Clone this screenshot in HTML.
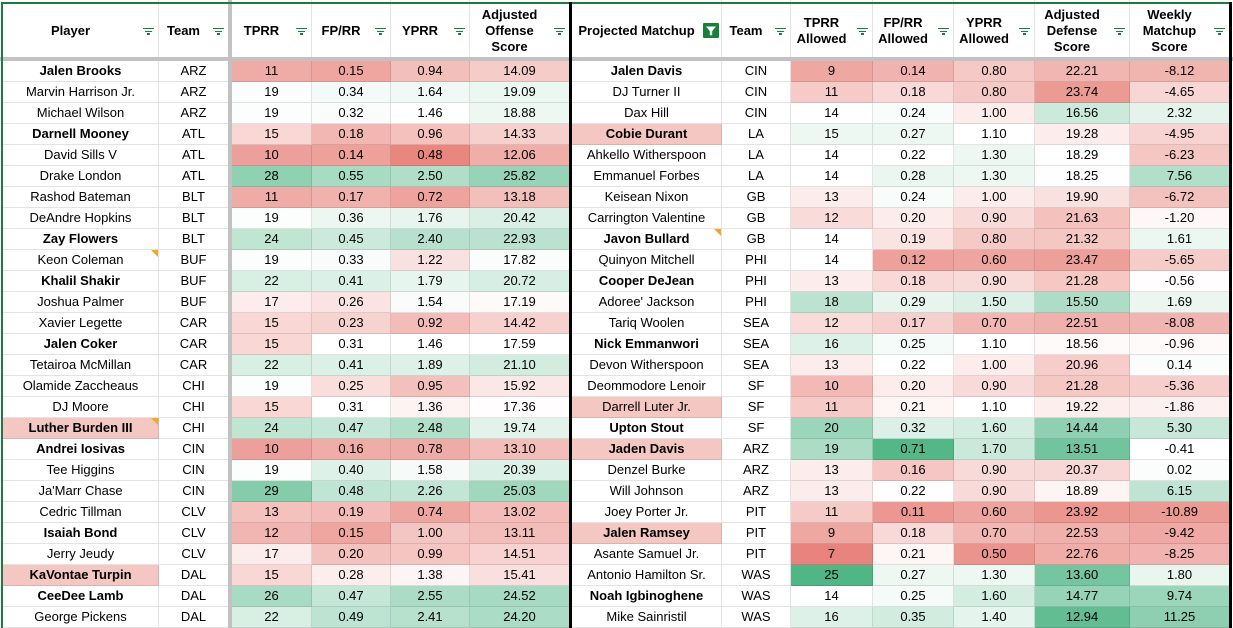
<!DOCTYPE html>
<html><head><meta charset="utf-8">
<style>
*{box-sizing:border-box;margin:0;padding:0}
html,body{width:1233px;height:628px;overflow:hidden;background:#fff;font-family:"Liberation Sans",Arial,sans-serif;color:#000}
.r{position:absolute;left:3px;height:21px;display:flex}
.r>div{height:21px;border-right:1px solid rgba(0,0,0,.11);border-bottom:1px solid rgba(0,0,0,.11);font-size:13px;line-height:20px;text-align:center;white-space:nowrap;overflow:hidden;position:relative}
.r>div:nth-child(1){width:156px}
.r>div:nth-child(2){width:69px;border-right:none;margin-right:4px}
.r>div:nth-child(3){width:80px}
.r>div:nth-child(4){width:79px}
.r>div:nth-child(5){width:79px}
.r>div:nth-child(6){width:99px;border-right:none;margin-right:3px}
.r>div:nth-child(7){width:150px}
.r>div:nth-child(8){width:69px}
.r>div:nth-child(9){width:82px}
.r>div:nth-child(10){width:81px}
.r>div:nth-child(11){width:81px}
.r>div:nth-child(12){width:95px}
.r>div:nth-child(13){width:99px;border-right:none}
.hd{top:4px;height:53px}
.hd>div{height:53px;border-bottom:none;display:flex;align-items:center;justify-content:center;padding-right:20px;font-weight:bold;line-height:16px;white-space:normal;text-align:center}
.B{font-weight:bold}
.P{background:#f4c7c3}
.N::after{content:"";position:absolute;right:0;top:0;width:0;height:0;border-top:7px solid #f5a623;border-left:7px solid transparent}
.fi{position:absolute;right:4px;top:24px;width:11px;height:1.2px;background:#188038}
.fi::before,.fi::after{content:"";position:absolute;height:1.2px;background:#188038}
.fi::before{left:2px;top:2.7px;width:7px}
.fi::after{left:4px;top:5.4px;width:3px}
.af{position:absolute;left:131px;top:19px;width:16px;height:15px;background:#188038;border-radius:1px}
.ln{position:absolute}
</style></head><body>

<div class="r" style="top:-18px"><div></div><div></div><div></div><div></div><div></div><div></div><div></div><div></div><div></div><div></div><div></div><div></div><div></div></div>

<div class="r hd">
<div>Player<i class="fi"></i></div>
<div>Team<i class="fi"></i></div>
<div>TPRR<i class="fi"></i></div>
<div>FP/RR<i class="fi"></i></div>
<div>YPRR<i class="fi"></i></div>
<div>Adjusted<br>Offense<br>Score<i class="fi"></i></div>
<div>Projected Matchup<span class="af"><svg width="16" height="15" viewBox="0 0 16 15"><path d="M3 3.5h10l-3.8 4.6v4.2h-2.4V8.1z" fill="#fff"/></svg></span></div>
<div>Team<i class="fi"></i></div>
<div>TPRR<br>Allowed<i class="fi"></i></div>
<div>FP/RR<br>Allowed<i class="fi"></i></div>
<div>YPRR<br>Allowed<i class="fi"></i></div>
<div>Adjusted<br>Defense<br>Score<i class="fi"></i></div>
<div>Weekly<br>Matchup<br>Score<i class="fi"></i></div>
</div>

<div class="r" style="top:61px"><div class="B">Jalen Brooks</div><div>ARZ</div><div>11</div><div>0.15</div><div>0.94</div><div>14.09</div><div class="B">Jalen Davis</div><div>CIN</div><div>9</div><div>0.14</div><div>0.80</div><div>22.21</div><div>-8.12</div></div>
<div class="r" style="top:82px"><div>Marvin Harrison Jr.</div><div>ARZ</div><div>19</div><div>0.34</div><div>1.64</div><div>19.09</div><div>DJ Turner II</div><div>CIN</div><div>11</div><div>0.18</div><div>0.80</div><div>23.74</div><div>-4.65</div></div>
<div class="r" style="top:103px"><div>Michael Wilson</div><div>ARZ</div><div>19</div><div>0.32</div><div>1.46</div><div>18.88</div><div>Dax Hill</div><div>CIN</div><div>14</div><div>0.24</div><div>1.00</div><div>16.56</div><div>2.32</div></div>
<div class="r" style="top:124px"><div class="B">Darnell Mooney</div><div>ATL</div><div>15</div><div>0.18</div><div>0.96</div><div>14.33</div><div class="B P">Cobie Durant</div><div>LA</div><div>15</div><div>0.27</div><div>1.10</div><div>19.28</div><div>-4.95</div></div>
<div class="r" style="top:145px"><div>David Sills V</div><div>ATL</div><div>10</div><div>0.14</div><div>0.48</div><div>12.06</div><div>Ahkello Witherspoon</div><div>LA</div><div>14</div><div>0.22</div><div>1.30</div><div>18.29</div><div>-6.23</div></div>
<div class="r" style="top:166px"><div>Drake London</div><div>ATL</div><div>28</div><div>0.55</div><div>2.50</div><div>25.82</div><div>Emmanuel Forbes</div><div>LA</div><div>14</div><div>0.28</div><div>1.30</div><div>18.25</div><div>7.56</div></div>
<div class="r" style="top:187px"><div>Rashod Bateman</div><div>BLT</div><div>11</div><div>0.17</div><div>0.72</div><div>13.18</div><div>Keisean Nixon</div><div>GB</div><div>13</div><div>0.24</div><div>1.00</div><div>19.90</div><div>-6.72</div></div>
<div class="r" style="top:208px"><div>DeAndre Hopkins</div><div>BLT</div><div>19</div><div>0.36</div><div>1.76</div><div>20.42</div><div>Carrington Valentine</div><div>GB</div><div>12</div><div>0.20</div><div>0.90</div><div>21.63</div><div>-1.20</div></div>
<div class="r" style="top:229px"><div class="B">Zay Flowers</div><div>BLT</div><div>24</div><div>0.45</div><div>2.40</div><div>22.93</div><div class="B N">Javon Bullard</div><div>GB</div><div>14</div><div>0.19</div><div>0.80</div><div>21.32</div><div>1.61</div></div>
<div class="r" style="top:250px"><div class="N">Keon Coleman</div><div>BUF</div><div>19</div><div>0.33</div><div>1.22</div><div>17.82</div><div>Quinyon Mitchell</div><div>PHI</div><div>14</div><div>0.12</div><div>0.60</div><div>23.47</div><div>-5.65</div></div>
<div class="r" style="top:271px"><div class="B">Khalil Shakir</div><div>BUF</div><div>22</div><div>0.41</div><div>1.79</div><div>20.72</div><div class="B">Cooper DeJean</div><div>PHI</div><div>13</div><div>0.18</div><div>0.90</div><div>21.28</div><div>-0.56</div></div>
<div class="r" style="top:292px"><div>Joshua Palmer</div><div>BUF</div><div>17</div><div>0.26</div><div>1.54</div><div>17.19</div><div>Adoree' Jackson</div><div>PHI</div><div>18</div><div>0.29</div><div>1.50</div><div>15.50</div><div>1.69</div></div>
<div class="r" style="top:313px"><div>Xavier Legette</div><div>CAR</div><div>15</div><div>0.23</div><div>0.92</div><div>14.42</div><div>Tariq Woolen</div><div>SEA</div><div>12</div><div>0.17</div><div>0.70</div><div>22.51</div><div>-8.08</div></div>
<div class="r" style="top:334px"><div class="B">Jalen Coker</div><div>CAR</div><div>15</div><div>0.31</div><div>1.46</div><div>17.59</div><div class="B">Nick Emmanwori</div><div>SEA</div><div>16</div><div>0.25</div><div>1.10</div><div>18.56</div><div>-0.96</div></div>
<div class="r" style="top:355px"><div>Tetairoa McMillan</div><div>CAR</div><div>22</div><div>0.41</div><div>1.89</div><div>21.10</div><div>Devon Witherspoon</div><div>SEA</div><div>13</div><div>0.22</div><div>1.00</div><div>20.96</div><div>0.14</div></div>
<div class="r" style="top:376px"><div>Olamide Zaccheaus</div><div>CHI</div><div>19</div><div>0.25</div><div>0.95</div><div>15.92</div><div>Deommodore Lenoir</div><div>SF</div><div>10</div><div>0.20</div><div>0.90</div><div>21.28</div><div>-5.36</div></div>
<div class="r" style="top:397px"><div>DJ Moore</div><div>CHI</div><div>15</div><div>0.31</div><div>1.36</div><div>17.36</div><div class="P">Darrell Luter Jr.</div><div>SF</div><div>11</div><div>0.21</div><div>1.10</div><div>19.22</div><div>-1.86</div></div>
<div class="r" style="top:418px"><div class="B P N">Luther Burden III</div><div>CHI</div><div>24</div><div>0.47</div><div>2.48</div><div>19.74</div><div class="B">Upton Stout</div><div>SF</div><div>20</div><div>0.32</div><div>1.60</div><div>14.44</div><div>5.30</div></div>
<div class="r" style="top:439px"><div class="B">Andrei Iosivas</div><div>CIN</div><div>10</div><div>0.16</div><div>0.78</div><div>13.10</div><div class="B P">Jaden Davis</div><div>ARZ</div><div>19</div><div>0.71</div><div>1.70</div><div>13.51</div><div>-0.41</div></div>
<div class="r" style="top:460px"><div>Tee Higgins</div><div>CIN</div><div>19</div><div>0.40</div><div>1.58</div><div>20.39</div><div>Denzel Burke</div><div>ARZ</div><div>13</div><div>0.16</div><div>0.90</div><div>20.37</div><div>0.02</div></div>
<div class="r" style="top:481px"><div>Ja'Marr Chase</div><div>CIN</div><div>29</div><div>0.48</div><div>2.26</div><div>25.03</div><div>Will Johnson</div><div>ARZ</div><div>13</div><div>0.22</div><div>0.90</div><div>18.89</div><div>6.15</div></div>
<div class="r" style="top:502px"><div>Cedric Tillman</div><div>CLV</div><div>13</div><div>0.19</div><div>0.74</div><div>13.02</div><div>Joey Porter Jr.</div><div>PIT</div><div>11</div><div>0.11</div><div>0.60</div><div>23.92</div><div>-10.89</div></div>
<div class="r" style="top:523px"><div class="B">Isaiah Bond</div><div>CLV</div><div>12</div><div>0.15</div><div>1.00</div><div>13.11</div><div class="B P">Jalen Ramsey</div><div>PIT</div><div>9</div><div>0.18</div><div>0.70</div><div>22.53</div><div>-9.42</div></div>
<div class="r" style="top:544px"><div>Jerry Jeudy</div><div>CLV</div><div>17</div><div>0.20</div><div>0.99</div><div>14.51</div><div>Asante Samuel Jr.</div><div>PIT</div><div>7</div><div>0.21</div><div>0.50</div><div>22.76</div><div>-8.25</div></div>
<div class="r" style="top:565px"><div class="B P">KaVontae Turpin</div><div>DAL</div><div>15</div><div>0.28</div><div>1.38</div><div>15.41</div><div>Antonio Hamilton Sr.</div><div>WAS</div><div>25</div><div>0.27</div><div>1.30</div><div>13.60</div><div>1.80</div></div>
<div class="r" style="top:586px"><div class="B">CeeDee Lamb</div><div>DAL</div><div>26</div><div>0.47</div><div>2.55</div><div>24.52</div><div class="B">Noah Igbinoghene</div><div>WAS</div><div>14</div><div>0.25</div><div>1.60</div><div>14.77</div><div>9.74</div></div>
<div class="r" style="top:607px"><div>George Pickens</div><div>DAL</div><div>22</div><div>0.49</div><div>2.41</div><div>24.20</div><div>Mike Sainristil</div><div>WAS</div><div>16</div><div>0.35</div><div>1.40</div><div>12.94</div><div>11.25</div></div>

<div class="ln" style="left:0;top:57px;width:1233px;height:4px;background:#c2c2c2"></div>
<div class="ln" style="left:228px;top:0;width:4px;height:628px;background:#c2c2c2"></div>
<div class="ln" style="left:1px;top:2px;width:1228px;height:2px;background:#1f7a40"></div>
<div class="ln" style="left:1px;top:2px;width:2px;height:626px;background:#1f7a40"></div>
<div class="ln" style="left:569px;top:2px;width:3px;height:626px;background:#000"></div>
<div class="ln" style="left:1229px;top:2px;width:3px;height:626px;background:#000"></div>

<script>
var P={2:[18.7,6.3,33.4],3:[.31,.067,.79],4:[1.46,.37,3.76],5:[17.5,8.43,31.4],8:[14,6.3,24.5],9:[.22,.077,.72],10:[1.1,.35,3.1],11:[18.3,25.55,12.34],12:[-.4,-14.4,17.5]};
var R=[230,120,112],G=[80,182,134];
var rows=document.querySelectorAll('.r');
for(var k=0;k<rows.length;k++){
  var r=rows[k]; if(r.classList.contains('hd'))continue;
  var ch=r.children;
  for(var i=0;i<ch.length;i++){
    var p=P[i]; if(!p)continue;
    var txt=ch[i].textContent.trim(); if(!txt)continue;
    var v=parseFloat(txt), t, col;
    if((v-p[0])*(p[1]-p[0])>0){t=(v-p[0])/(p[1]-p[0]);col=R;}else{t=(v-p[0])/(p[2]-p[0]);col=G;}
    t=Math.max(0,Math.min(1,t));
    ch[i].style.background='rgb('+Math.round(255+(col[0]-255)*t)+','+Math.round(255+(col[1]-255)*t)+','+Math.round(255+(col[2]-255)*t)+')';
  }
}
</script>
</body></html>
